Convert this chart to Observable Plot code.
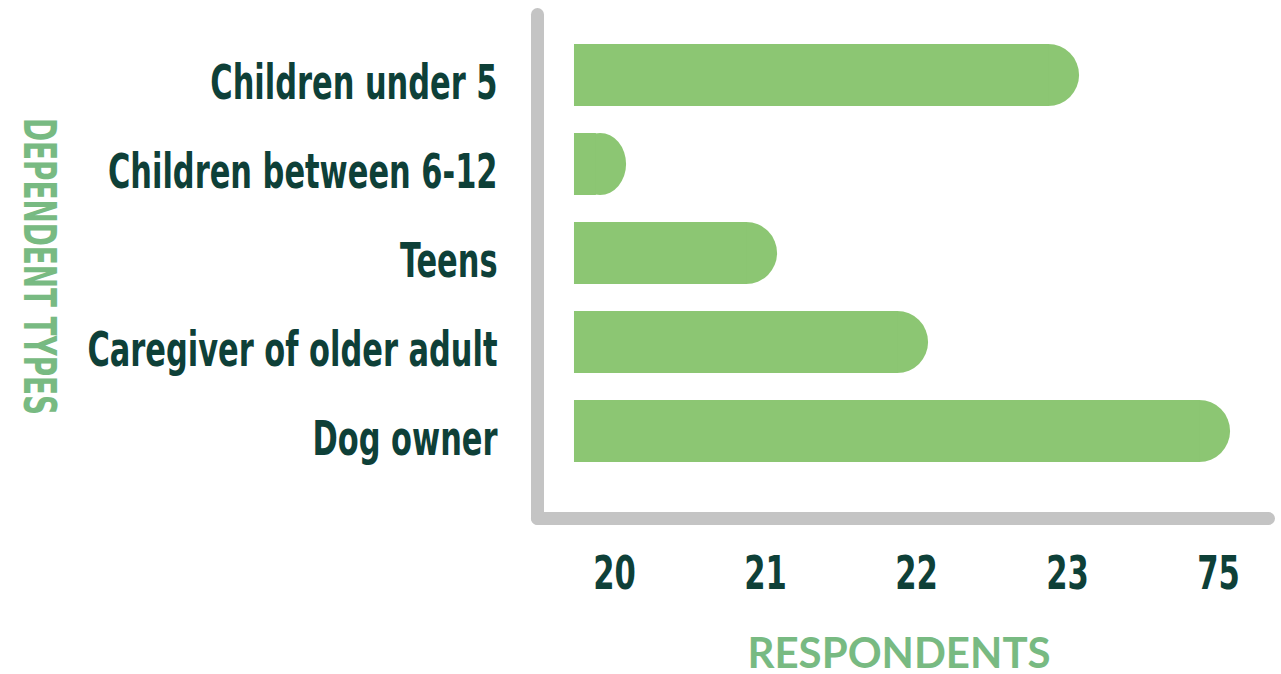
<!DOCTYPE html>
<html><head><meta charset="utf-8">
<script src="https://cdn.jsdelivr.net/npm/d3@7"></script>
<script src="https://cdn.jsdelivr.net/npm/@observablehq/plot@0.6"></script>
<style>body{margin:0;background:#fff;overflow:hidden;}</style>
</head><body><div id="chart"></div>
<script>
const categories = ["Children under 5", "Children between 6-12", "Teens", "Caregiver of older adult", "Dog owner"];
const respondents = [23, 20, 21, 22, 75];
const tickLabels = [20, 21, 22, 23, 75];
const yTitle = "DEPENDENT TYPES";
const xTitle = "RESPONDENTS";

const rows = categories.map((category, i) => ({category, value: respondents[i], pos: tickLabels.indexOf(respondents[i])}));

const condensed = '"Liberation Sans Narrow", "DejaVu Sans Condensed", "Roboto Condensed", sans-serif';
const dark = "#0e4038";
const green = "#8cc673";
const labelGreen = "#78ba82";
const grey = "#c4c4c4";
const barStart = -0.265;
const capReach = 0.08;

const chart = Plot.plot({
  width: 1281, height: 674,
  marginLeft: 537, marginRight: 13, marginTop: 14, marginBottom: 156,
  style: {background: "white", overflow: "visible"},
  x: {domain: [0, 4], range: [614, 1218]},
  y: {domain: categories, range: [30, 477], paddingInner: 0.3, paddingOuter: 0.15},
  marks: [
    Plot.frame({anchor: "left", stroke: grey, strokeWidth: 13, strokeLinecap: "round"}),
    Plot.frame({anchor: "bottom", stroke: grey, strokeWidth: 13, strokeLinecap: "round"}),
    Plot.barX(rows, {y: "category", x1: () => barStart, x2: d => d.pos + capReach, fill: green, rx: 31}),
    Plot.barX(rows, {y: "category", x1: () => barStart, x2: d => d.pos + capReach - 0.2, fill: green}),
    Plot.axisY({tickSize: 0, tickPadding: 40, dy: 8, fontSize: 48, fontFamily: condensed, fontWeight: "bold", color: dark, label: null}),
    Plot.axisX({ticks: tickLabels.map((_, i) => i), tickFormat: i => tickLabels[i], tickSize: 0, tickPadding: 38, fontSize: 46, fontFamily: condensed, fontWeight: "bold", color: dark, label: null}),
    Plot.text([yTitle], {frameAnchor: "left", dx: -499, rotate: 90, textAnchor: "middle", lineAnchor: "middle", fontSize: 44, fontFamily: condensed, fontWeight: "bold", fill: labelGreen}),
    Plot.text([xTitle], {frameAnchor: "bottom", dx: -4, dy: 136, lineAnchor: "middle", fontSize: 42, fontFamily: "Lato, sans-serif", fontWeight: "bold", fill: labelGreen})
  ]
});
document.getElementById("chart").appendChild(chart);

// condense the heavy labels horizontally to mimic the narrow display face
function squeeze(selection, factor) {
  selection.each(function () {
    const len = this.getComputedTextLength();
    this.setAttribute("textLength", len * factor);
    this.setAttribute("lengthAdjust", "spacingAndGlyphs");
  });
}
const svg = d3.select(chart);
squeeze(svg.selectAll('g[aria-label="y-axis tick label"] text'), 0.705);
squeeze(svg.selectAll('g[aria-label="x-axis tick label"] text'), 0.74);
svg.selectAll("text").each(function () {
  if (this.textContent === yTitle) {
    this.setAttribute("textLength", 297);
    this.setAttribute("lengthAdjust", "spacingAndGlyphs");
  }
});
</script>
</body></html>
